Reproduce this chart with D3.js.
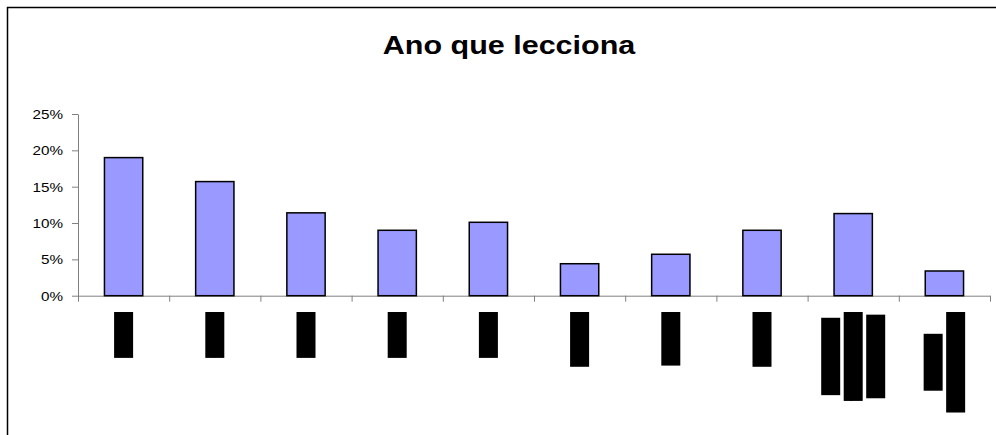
<!DOCTYPE html>
<html>
<head>
<meta charset="utf-8">
<script src="https://cdn.jsdelivr.net/npm/d3@7"></script>
<style>
  body { margin: 0; background: #fff; }
  svg { display: block; font-family: "Liberation Sans", Arial, sans-serif; }
</style>
</head>
<body>
<script>
'use strict';

// chart data
const titulo = "Ano que lecciona";
const categorias = ["5º ano", "6º ano", "7º ano", "8º ano", "9º ano", "10º ano", "11º ano", "12º ano",
  "Leccionam\nvários níveis\nem paralelo", "Outros /\nNão responde"];
const valores = [0.190, 0.157, 0.114, 0.090, 0.101, 0.044, 0.057, 0.090, 0.113, 0.034];
const yTicks = [0, 0.05, 0.10, 0.15, 0.20, 0.25];

(function() {
  const width = 996, height = 435;
  const stretch = 1.22; // text in the picture is drawn a bit wider than normal
  const axisColor = '#808080';

  let svg = d3.select('body').append('svg')
    .attr('width', width)
    .attr('height', height);

  // outer chart frame, cut off by the right and bottom edges
  svg.append('rect')
    .attr('x', 7.5).attr('y', 7.5)
    .attr('width', 1100).attr('height', 600)
    .attr('fill', 'none')
    .attr('stroke', '#000')
    .attr('stroke-width', 1.5);

  // title
  svg.append('text')
    .attr('transform', `translate(509,54) scale(${stretch},1)`)
    .attr('text-anchor', 'middle')
    .style('font-size', '25px')
    .style('font-weight', 'bold')
    .text(titulo);

  // scales
  let x = d3.scaleBand()
    .domain(d3.range(categorias.length))
    .range([78, 990])
    .paddingInner(0.58)
    .paddingOuter(0.29);

  let xEdges = d3.scaleLinear()
    .domain([0, categorias.length])
    .range([78, 990]);

  let y = d3.scaleLinear()
    .domain([0, 0.25])
    .range([295.7, 114]);

  // y axis
  let yAxis = svg.append('g')
    .attr('transform', 'translate(78,0)')
    .call(d3.axisLeft(y).tickValues(yTicks).tickFormat(d3.format('.0%')).tickSize(6).tickSizeOuter(0));
  yAxis.select('.domain').attr('stroke', axisColor);
  yAxis.selectAll('.tick line').attr('stroke', axisColor);
  yAxis.selectAll('.tick text')
    .attr('x', null)
    .attr('dy', null)
    .attr('dominant-baseline', 'central')
    .attr('transform', `translate(-15,0) scale(${stretch},1)`)
    .style('font-family', '"Liberation Sans", Arial, sans-serif')
    .style('font-size', '12.5px')
    .attr('fill', '#000');

  // x axis: line with ticks between the categories
  let xAxis = svg.append('g')
    .attr('transform', `translate(0,${y(0)})`)
    .call(d3.axisBottom(xEdges).tickValues(d3.range(0, categorias.length + 1)).tickFormat('').tickSize(6).tickSizeOuter(0));
  xAxis.select('.domain').attr('stroke', axisColor);
  xAxis.selectAll('.tick line').attr('stroke', axisColor);

  // bars
  svg.selectAll('.bar')
    .data(valores)
    .enter()
    .append('rect')
      .attr('class', 'bar')
      .attr('x', (d, i) => x(i))
      .attr('y', d => y(d))
      .attr('width', x.bandwidth())
      .attr('height', d => y(0) - y(d))
      .attr('fill', '#9999FF')
      .attr('stroke', '#000')
      .attr('stroke-width', 1.5);

  // category labels: vertical text, shown as solid black blocks like in the picture
  const lineGap = 22.5, blockH = 19, labelTop = 312;
  categorias.forEach(function(cat, i) {
    let lines = cat.split('\n');
    let g = svg.append('g')
      .attr('class', 'xlabel')
      .attr('transform', `translate(${x(i) + x.bandwidth() / 2},${labelTop})`);

    let items = lines.map(function(line) {
      let lg = g.append('g');
      let r = lg.append('rect').attr('fill', '#000');
      let t = lg.append('text')
        .attr('text-anchor', 'middle')
        .attr('dominant-baseline', 'central')
        .style('font-size', '16px')
        .attr('fill', '#000')
        .text(line);
      return { lg: lg, r: r, len: t.node().getComputedTextLength() };
    });

    let longest = d3.max(items, d => d.len);
    items.forEach(function(it, j) {
      let dx = (j - (lines.length - 1) / 2) * lineGap;
      it.lg.attr('transform', `translate(${dx},${longest / 2}) rotate(-90)`);
      it.r.attr('x', -it.len / 2).attr('y', -blockH / 2)
        .attr('width', it.len).attr('height', blockH);
    });
  });
})();
</script>
</body>
</html>
